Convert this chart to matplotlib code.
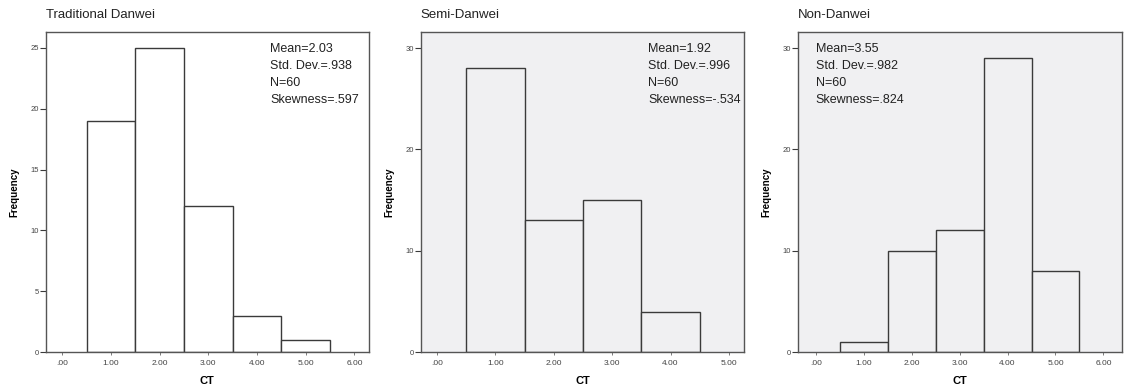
import matplotlib
matplotlib.use("Agg")
import matplotlib.pyplot as plt

plt.rcParams['font.family'] = ['Liberation Sans', 'DejaVu Sans']

titles = ["Traditional Danwei", "Semi-Danwei", "Non-Danwei"]
bins_trad = [1, 2, 3, 4, 5]
freq_trad = [19, 25, 12, 3, 1]
bins_semi = [1, 2, 3, 4]
freq_semi = [28, 13, 15, 4]
bins_non = [1, 2, 3, 4, 5]
freq_non = [1, 10, 12, 29, 8]
stats_trad = "Mean=2.03\nStd. Dev.=.938\nN=60\nSkewness=.597"
stats_semi = "Mean=1.92\nStd. Dev.=.996\nN=60\nSkewness=-.534"
stats_non = "Mean=3.55\nStd. Dev.=.982\nN=60\nSkewness=.824"
xticks_trad = [0, 1, 2, 3, 4, 5, 6]
xticks_semi = [0, 1, 2, 3, 4, 5]
xticks_non = [0, 1, 2, 3, 4, 5, 6]
yticks_trad = [0, 5, 10, 15, 20, 25]
yticks_semi = [0, 10, 20, 30]
yticks_non = [0, 10, 20, 30]

panels = [
    dict(title=titles[0], x=bins_trad, y=freq_trad, stats=stats_trad, xt=xticks_trad, yt=yticks_trad,
         pos=[0.0406, 0.0974, 0.2874, 0.8205], xlim=(-0.34, 6.3), ylim=(0, 26.3), bg="white", sx=0.694),
    dict(title=titles[1], x=bins_semi, y=freq_semi, stats=stats_semi, xt=xticks_semi, yt=yticks_semi,
         pos=[0.374, 0.0974, 0.2874, 0.8205], xlim=(-0.28, 5.26), ylim=(0, 31.6), bg="#f0f0f2", sx=0.703),
    dict(title=titles[2], x=bins_non, y=freq_non, stats=stats_non, xt=xticks_non, yt=yticks_non,
         pos=[0.709, 0.0974, 0.288, 0.8205], xlim=(-0.38, 6.38), ylim=(0, 31.6), bg="#f0f0f2", sx=0.056),
]

fig = plt.figure(figsize=(11.25, 3.9), dpi=100)
edge = "#3a3a3a"
for p in panels:
    ax = fig.add_axes(p["pos"])
    ax.set_facecolor(p["bg"])
    ax.bar(p["x"], p["y"], width=1.0, facecolor=p["bg"], edgecolor=edge, linewidth=1.0)
    ax.set_xlim(*p["xlim"])
    ax.set_ylim(*p["ylim"])
    ax.set_xticks(p["xt"])
    ax.set_xticklabels([(f"{v:.2f}" if v != 0 else ".00") for v in p["xt"]], fontsize=6, color="#444444")
    ax.set_yticks(p["yt"])
    ax.set_yticklabels([str(v) for v in p["yt"]], fontsize=5.5, color="#444444")
    ax.tick_params(axis='y', direction='out', length=4, width=0.8, color=edge, pad=1)
    ax.tick_params(axis='x', direction='out', length=2, width=0.6, color="#666666", pad=4)
    for s in ax.spines.values():
        s.set_color("#555555")
        s.set_linewidth(1.0)
    ax.set_xlabel("CT", fontsize=8, fontweight="bold", labelpad=6)
    ax.set_ylabel("Frequency", fontsize=7, fontweight="bold", labelpad=8)
    ax.text(p["sx"], 0.965, p["stats"], transform=ax.transAxes, fontsize=9, va="top", ha="left",
            linespacing=1.55, color="#222222")
    ax.text(0.0, 1.035, p["title"], transform=ax.transAxes, fontsize=9.5, va="bottom", ha="left",
            color="#222222")

fig.savefig("out.png", dpi=100)
